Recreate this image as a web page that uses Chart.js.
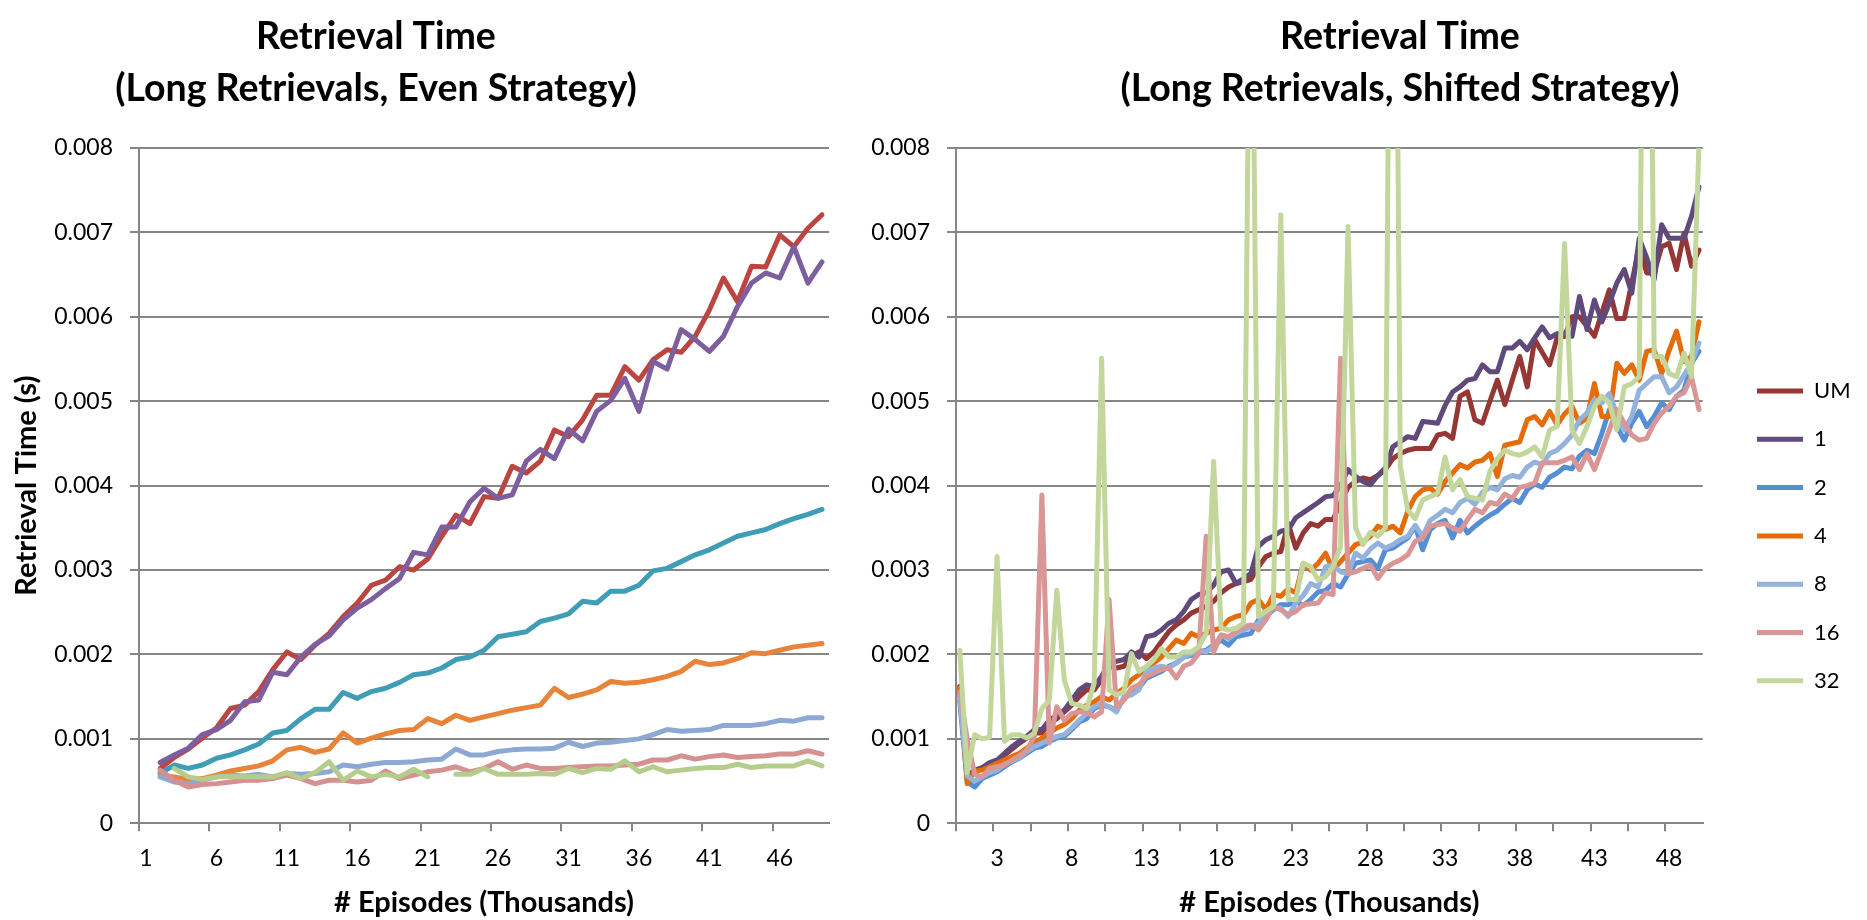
<!DOCTYPE html>
<html>
<head>
<meta charset="utf-8">
<title>Retrieval Time</title>
<script src="https://cdn.jsdelivr.net/npm/chart.js@4.4.1/dist/chart.umd.min.js"></script>
<style>
    html, body { margin: 0; padding: 0; background: #ffffff; overflow: hidden; }
    body { width: 1867px; height: 920px; position: relative; }
    #graficoPar { position: absolute; left: -83px; top: 0; }
    #graficoDesplazado { position: absolute; left: 857px; top: 0; }
</style>
</head>
<body>
<canvas id="graficoPar" width="918" height="920"></canvas>
<canvas id="graficoDesplazado" width="1086" height="920"></canvas>
<script>
// ---- datos: Even Strategy (episodios en miles) ----
const episodiosPar = [1, 2, 3, 4, 5, 6, 7, 8, 9, 10, 11, 12, 13, 14, 15, 16, 17, 18, 19, 20,
    21, 22, 23, 24, 25, 26, 27, 28, 29, 30, 31, 32, 33, 34, 35, 36, 37, 38, 39, 40,
    41, 42, 43, 44, 45, 46, 47, 48, 49];

const umPar = [null, 0.00065, 0.00078, 0.00088, 0.00101, 0.00113, 0.00136, 0.00140, 0.00156, 0.00182,
    0.00203, 0.00194, 0.00211, 0.00225, 0.00245, 0.00261, 0.00282, 0.00288, 0.00304, 0.00300,
    0.00313, 0.00340, 0.00365, 0.00355, 0.00387, 0.00385, 0.00423, 0.00415, 0.00429, 0.00466,
    0.00458, 0.00478, 0.00507, 0.00507, 0.00541, 0.00525, 0.00549, 0.00561, 0.00558, 0.00577,
    0.00608, 0.00646, 0.00618, 0.00660, 0.00659, 0.00697, 0.00683, 0.00705, 0.00721];
const unoPar = [null, 0.00072, 0.00081, 0.00089, 0.00105, 0.00111, 0.00122, 0.00144, 0.00146, 0.00179,
    0.00176, 0.00197, 0.00212, 0.00222, 0.00241, 0.00255, 0.00265, 0.00278, 0.00290, 0.00321,
    0.00318, 0.00351, 0.00351, 0.00381, 0.00397, 0.00385, 0.00389, 0.00429, 0.00443, 0.00432,
    0.00467, 0.00453, 0.00488, 0.00501, 0.00527, 0.00488, 0.00547, 0.00538, 0.00585, 0.00573,
    0.00559, 0.00577, 0.00612, 0.00640, 0.00652, 0.00646, 0.00683, 0.00640, 0.00665];
const dosPar = [null, 0.00059, 0.00069, 0.00065, 0.00069, 0.00077, 0.00081, 0.00087, 0.00094, 0.00107,
    0.00110, 0.00124, 0.00135, 0.00135, 0.00155, 0.00148, 0.00156, 0.00160, 0.00167, 0.00176,
    0.00178, 0.00184, 0.00194, 0.00197, 0.00205, 0.00221, 0.00224, 0.00227, 0.00239, 0.00243,
    0.00248, 0.00263, 0.00261, 0.00275, 0.00275, 0.00282, 0.00299, 0.00302, 0.00310, 0.00318,
    0.00324, 0.00332, 0.00340, 0.00344, 0.00348, 0.00355, 0.00361, 0.00366, 0.00372];
const cuatroPar = [null, 0.00057, 0.00055, 0.00052, 0.00053, 0.00057, 0.00062, 0.00065, 0.00068, 0.00074,
    0.00087, 0.00090, 0.00084, 0.00088, 0.00107, 0.00095, 0.00101, 0.00106, 0.00110, 0.00111,
    0.00124, 0.00118, 0.00128, 0.00122, 0.00126, 0.00130, 0.00134, 0.00137, 0.00140, 0.00160,
    0.00149, 0.00153, 0.00158, 0.00168, 0.00166, 0.00167, 0.00170, 0.00174, 0.00180, 0.00192,
    0.00188, 0.00190, 0.00195, 0.00202, 0.00201, 0.00205, 0.00209, 0.00211, 0.00213];
const ochoPar = [null, 0.00055, 0.00049, 0.00047, 0.00051, 0.00055, 0.00057, 0.00056, 0.00058, 0.00055,
    0.00059, 0.00058, 0.00059, 0.00061, 0.00069, 0.00067, 0.00070, 0.00072, 0.00072, 0.00073,
    0.00075, 0.00076, 0.00088, 0.00081, 0.00081, 0.00085, 0.00087, 0.00088, 0.00088, 0.00089,
    0.00096, 0.00091, 0.00095, 0.00096, 0.00098, 0.00100, 0.00105, 0.00111, 0.00109, 0.00110,
    0.00111, 0.00116, 0.00116, 0.00116, 0.00118, 0.00122, 0.00121, 0.00125, 0.00125];
const dieciseisPar = [null, 0.00063, 0.00051, 0.00043, 0.00046, 0.00047, 0.00049, 0.00051, 0.00051, 0.00053,
    0.00057, 0.00053, 0.00047, 0.00051, 0.00051, 0.00049, 0.00051, 0.00062, 0.00053, 0.00057,
    0.00061, 0.00063, 0.00067, 0.00061, 0.00065, 0.00073, 0.00064, 0.00069, 0.00065, 0.00065,
    0.00066, 0.00067, 0.00068, 0.00068, 0.00069, 0.00070, 0.00075, 0.00075, 0.00080, 0.00076,
    0.00079, 0.00081, 0.00078, 0.00079, 0.00080, 0.00082, 0.00082, 0.00086, 0.00082];
const treintaydosPar = [null, null, 0.00065, 0.00055, 0.00052, 0.00055, 0.00055, 0.00055, 0.00055, 0.00055,
    0.00060, 0.00053, 0.00060, 0.00073, 0.00051, 0.00062, 0.00055, 0.00058, 0.00055, 0.00064,
    0.00055, null, 0.00058, 0.00058, 0.00065, 0.00058, 0.00058, 0.00058, 0.00059, 0.00058,
    0.00065, 0.00060, 0.00065, 0.00064, 0.00074, 0.00061, 0.00067, 0.00061, 0.00063, 0.00065,
    0.00066, 0.00066, 0.00070, 0.00066, 0.00068, 0.00068, 0.00068, 0.00074, 0.00068];

// ---- datos: Shifted Strategy (cada 500 episodios) ----
const episodiosDesplazado = [0.5, 1, 1.5, 2, 2.5, 3, 3.5, 4, 4.5, 5, 5.5, 6, 6.5, 7, 7.5, 8, 8.5, 9, 9.5, 10,
    10.5, 11, 11.5, 12, 12.5, 13, 13.5, 14, 14.5, 15, 15.5, 16, 16.5, 17, 17.5, 18, 18.5, 19, 19.5, 20,
    20.5, 21, 21.5, 22, 22.5, 23, 23.5, 24, 24.5, 25, 25.5, 26, 26.5, 27, 27.5, 28, 28.5, 29, 29.5, 30,
    30.5, 31, 31.5, 32, 32.5, 33, 33.5, 34, 34.5, 35, 35.5, 36, 36.5, 37, 37.5, 38, 38.5, 39, 39.5, 40,
    40.5, 41, 41.5, 42, 42.5, 43, 43.5, 44, 44.5, 45, 45.5, 46, 46.5, 47, 47.5, 48, 48.5, 49, 49.5, 50];

const umDesplazado = [0.00162, 0.00058, 0.00062, 0.00065, 0.00069, 0.00072, 0.00081, 0.00088, 0.00095, 0.00101,
    0.00107, 0.00107, 0.00118, 0.00124, 0.00132, 0.00140, 0.00150, 0.00158, 0.00158, 0.00170,
    0.00186, 0.00184, 0.00186, 0.00197, 0.00203, 0.00195, 0.00203, 0.00215, 0.00227, 0.00235,
    0.00241, 0.00249, 0.00253, 0.00257, 0.00263, 0.00273, 0.00280, 0.00284, 0.00286, 0.00289,
    0.00304, 0.00316, 0.00320, 0.00322, 0.00355, 0.00326, 0.00344, 0.00355, 0.00352, 0.00360,
    0.00360, 0.00380, 0.00398, 0.00405, 0.00409, 0.00407, 0.00412, 0.00419, 0.00432, 0.00438,
    0.00442, 0.00444, 0.00444, 0.00444, 0.00460, 0.00462, 0.00456, 0.00506, 0.00511, 0.00478,
    0.00474, 0.00500, 0.00525, 0.00496, 0.00525, 0.00553, 0.00517, 0.00573, 0.00558, 0.00543,
    0.00575, 0.00577, 0.00600, 0.00600, 0.00589, 0.00577, 0.00605, 0.00632, 0.00598, 0.00598,
    0.00640, 0.00683, 0.00652, 0.00652, 0.00683, 0.00687, 0.00656, 0.00699, 0.00660, 0.00679];
const unoDesplazado = [0.00155, 0.00055, 0.00063, 0.00066, 0.00072, 0.00075, 0.00083, 0.00091, 0.00097, 0.00103,
    0.00111, 0.00111, 0.00122, 0.00128, 0.00134, 0.00146, 0.00158, 0.00164, 0.00162, 0.00174,
    0.00190, 0.00192, 0.00194, 0.00203, 0.00197, 0.00221, 0.00223, 0.00229, 0.00237, 0.00241,
    0.00251, 0.00265, 0.00271, 0.00273, 0.00282, 0.00298, 0.00300, 0.00284, 0.00290, 0.00296,
    0.00328, 0.00336, 0.00340, 0.00346, 0.00348, 0.00362, 0.00368, 0.00374, 0.00380, 0.00387,
    0.00388, 0.00400, 0.00419, 0.00411, 0.00405, 0.00401, 0.00412, 0.00421, 0.00446, 0.00452,
    0.00458, 0.00456, 0.00476, 0.00475, 0.00474, 0.00495, 0.00511, 0.00517, 0.00525, 0.00527,
    0.00543, 0.00535, 0.00535, 0.00563, 0.00563, 0.00571, 0.00561, 0.00575, 0.00588, 0.00575,
    0.00580, 0.00581, 0.00577, 0.00624, 0.00585, 0.00620, 0.00594, 0.00616, 0.00640, 0.00656,
    0.00628, 0.00693, 0.00670, 0.00644, 0.00709, 0.00693, 0.00693, 0.00693, 0.00719, 0.00754];
const dosDesplazado = [0.00145, 0.00049, 0.00043, 0.00053, 0.00057, 0.00061, 0.00067, 0.00073, 0.00077, 0.00083,
    0.00089, 0.00091, 0.00097, 0.00101, 0.00103, 0.00111, 0.00120, 0.00124, 0.00136, 0.00140,
    0.00138, 0.00134, 0.00148, 0.00154, 0.00160, 0.00172, 0.00176, 0.00180, 0.00186, 0.00190,
    0.00197, 0.00199, 0.00203, 0.00205, 0.00211, 0.00217, 0.00211, 0.00221, 0.00223, 0.00225,
    0.00241, 0.00245, 0.00253, 0.00259, 0.00259, 0.00263, 0.00258, 0.00265, 0.00274, 0.00276,
    0.00284, 0.00280, 0.00295, 0.00308, 0.00310, 0.00312, 0.00302, 0.00324, 0.00326, 0.00332,
    0.00338, 0.00352, 0.00324, 0.00348, 0.00355, 0.00359, 0.00338, 0.00359, 0.00344, 0.00352,
    0.00359, 0.00365, 0.00370, 0.00378, 0.00385, 0.00380, 0.00395, 0.00402, 0.00398, 0.00410,
    0.00415, 0.00422, 0.00420, 0.00435, 0.00442, 0.00438, 0.00462, 0.00490, 0.00470, 0.00454,
    0.00474, 0.00488, 0.00470, 0.00482, 0.00498, 0.00490, 0.00506, 0.00513, 0.00545, 0.00559];
const cuatroDesplazado = [0.00160, 0.00047, 0.00062, 0.00063, 0.00067, 0.00071, 0.00075, 0.00079, 0.00083, 0.00089,
    0.00095, 0.00101, 0.00107, 0.00113, 0.00117, 0.00124, 0.00134, 0.00140, 0.00144, 0.00150,
    0.00146, 0.00154, 0.00160, 0.00170, 0.00176, 0.00184, 0.00190, 0.00197, 0.00207, 0.00217,
    0.00213, 0.00225, 0.00221, 0.00225, 0.00229, 0.00231, 0.00241, 0.00245, 0.00247, 0.00261,
    0.00265, 0.00253, 0.00271, 0.00269, 0.00278, 0.00273, 0.00308, 0.00300, 0.00308, 0.00320,
    0.00300, 0.00310, 0.00320, 0.00330, 0.00333, 0.00340, 0.00352, 0.00348, 0.00352, 0.00344,
    0.00370, 0.00387, 0.00395, 0.00397, 0.00390, 0.00405, 0.00415, 0.00425, 0.00421, 0.00428,
    0.00430, 0.00438, 0.00411, 0.00448, 0.00450, 0.00452, 0.00478, 0.00482, 0.00472, 0.00488,
    0.00472, 0.00485, 0.00494, 0.00474, 0.00480, 0.00521, 0.00482, 0.00482, 0.00545, 0.00533,
    0.00543, 0.00525, 0.00559, 0.00561, 0.00533, 0.00560, 0.00583, 0.00547, 0.00553, 0.00594];
const ochoDesplazado = [0.00150, 0.00056, 0.00050, 0.00055, 0.00060, 0.00063, 0.00070, 0.00074, 0.00078, 0.00085,
    0.00091, 0.00095, 0.00099, 0.00103, 0.00105, 0.00113, 0.00122, 0.00130, 0.00138, 0.00142,
    0.00138, 0.00132, 0.00150, 0.00152, 0.00158, 0.00180, 0.00184, 0.00186, 0.00184, 0.00190,
    0.00197, 0.00201, 0.00205, 0.00203, 0.00209, 0.00223, 0.00219, 0.00225, 0.00229, 0.00233,
    0.00237, 0.00251, 0.00255, 0.00255, 0.00245, 0.00261, 0.00270, 0.00284, 0.00280, 0.00304,
    0.00306, 0.00298, 0.00296, 0.00320, 0.00314, 0.00325, 0.00332, 0.00326, 0.00330, 0.00336,
    0.00340, 0.00353, 0.00340, 0.00359, 0.00365, 0.00372, 0.00368, 0.00380, 0.00385, 0.00378,
    0.00392, 0.00398, 0.00395, 0.00408, 0.00412, 0.00410, 0.00422, 0.00428, 0.00425, 0.00438,
    0.00442, 0.00450, 0.00460, 0.00478, 0.00486, 0.00502, 0.00498, 0.00509, 0.00485, 0.00466,
    0.00482, 0.00513, 0.00521, 0.00529, 0.00529, 0.00510, 0.00517, 0.00531, 0.00545, 0.00569];
const dieciseisDesplazado = [0.00155, 0.00100, 0.00058, 0.00055, 0.00065, 0.00067, 0.00069, 0.00075, 0.00080, 0.00087,
    0.00103, 0.00389, 0.00095, 0.00138, 0.00122, 0.00130, 0.00132, 0.00132, 0.00126, 0.00132,
    0.00265, 0.00138, 0.00146, 0.00160, 0.00164, 0.00174, 0.00178, 0.00182, 0.00184, 0.00172,
    0.00186, 0.00190, 0.00201, 0.00340, 0.00203, 0.00223, 0.00221, 0.00227, 0.00233, 0.00235,
    0.00229, 0.00241, 0.00257, 0.00253, 0.00247, 0.00251, 0.00259, 0.00260, 0.00261, 0.00273,
    0.00271, 0.00551, 0.00296, 0.00298, 0.00302, 0.00306, 0.00290, 0.00302, 0.00308, 0.00312,
    0.00318, 0.00334, 0.00338, 0.00352, 0.00354, 0.00355, 0.00350, 0.00346, 0.00360, 0.00372,
    0.00368, 0.00380, 0.00378, 0.00390, 0.00385, 0.00398, 0.00400, 0.00403, 0.00427, 0.00427,
    0.00427, 0.00430, 0.00434, 0.00419, 0.00438, 0.00419, 0.00442, 0.00466, 0.00490, 0.00474,
    0.00460, 0.00454, 0.00456, 0.00474, 0.00486, 0.00494, 0.00506, 0.00510, 0.00529, 0.00490];
const treintaydosDesplazado = [0.00205, 0.00060, 0.00105, 0.00100, 0.00102, 0.00316, 0.00097, 0.00105, 0.00105, 0.00101,
    0.00107, 0.00136, 0.00146, 0.00276, 0.00170, 0.00142, 0.00140, 0.00136, 0.00166, 0.00551,
    0.00158, 0.00152, 0.00156, 0.00201, 0.00180, 0.00186, 0.00194, 0.00207, 0.00197, 0.00197,
    0.00203, 0.00203, 0.00209, 0.00225, 0.00429, 0.00231, 0.00229, 0.00231, 0.00237, 0.01200,
    0.00245, 0.00251, 0.00257, 0.00721, 0.00265, 0.00265, 0.00308, 0.00304, 0.00288, 0.00292,
    0.00304, 0.00328, 0.00707, 0.00350, 0.00330, 0.00345, 0.00340, 0.00350, 0.01600, 0.00423,
    0.00371, 0.00361, 0.00383, 0.00387, 0.00391, 0.00434, 0.00395, 0.00407, 0.00387, 0.00385,
    0.00383, 0.00417, 0.00432, 0.00442, 0.00438, 0.00436, 0.00440, 0.00446, 0.00434, 0.00466,
    0.00470, 0.00687, 0.00466, 0.00450, 0.00470, 0.00494, 0.00506, 0.00498, 0.00466, 0.00517,
    0.00521, 0.00529, 0.01600, 0.00553, 0.00553, 0.00533, 0.00529, 0.00557, 0.00529, 0.00805];

const nombresSeries = ['UM', '1', '2', '4', '8', '16', '32'];
const coloresPar = ['#BB4541', '#7D5F9F', '#3F9DB5', '#E8833A', '#8DA8D3', '#D69090', '#B5CD8B'];
const coloresDesplazado = ['#953735', '#604A7B', '#558ED5', '#E46C0A', '#93B3DD', '#D99694', '#C3D69B'];

const gris = '#868686';

Chart.defaults.font.family = 'Lato';
Chart.defaults.color = '#000000';

function CrearSeries(valores, colores) {
    // la ultima serie se dibuja encima, como en Excel
    return valores.map((datos, i) => ({
        label: nombresSeries[i],
        data: datos,
        borderColor: colores[i],
        backgroundColor: colores[i],
        borderWidth: 5,
        borderCapStyle: 'round',
        borderJoinStyle: 'round',
        pointRadius: 0,
        pointHoverRadius: 0,
        tension: 0,
        spanGaps: false,
        order: valores.length - i
    }));
}

function EjeY(ancho, conTitulo) {
    return {
        min: 0,
        max: 0.008,
        afterFit: function (eje) { eje.width = ancho; },
        ticks: {
            stepSize: 0.001,
            padding: 17,
            font: { size: 23 },
            callback: function (valor) { return valor === 0 ? '0' : valor.toFixed(3); }
        },
        grid: { color: gris, lineWidth: 2, tickLength: 9 },
        border: { color: gris, width: 2 },
        title: {
            display: conTitulo,
            text: 'Retrieval Time (s)',
            font: { size: 29, weight: 'bold' },
            padding: { top: 92.6, bottom: 0 }
        }
    };
}

function EjeX(mostrarEtiqueta) {
    return {
        type: 'category',
        offset: true,
        afterFit: function (eje) { eje.height = 96.7; },
        ticks: {
            autoSkip: false,
            maxRotation: 0,
            minRotation: 0,
            padding: 13,
            font: { size: 23 },
            callback: function (valor, indice) {
                return mostrarEtiqueta(indice) ? this.getLabelForValue(valor) : '';
            }
        },
        grid: {
            offset: true,
            drawOnChartArea: false,
            tickLength: 8,
            lineWidth: 2,
            color: function (c) { return c.index % 5 === 0 ? gris : 'rgba(0,0,0,0)'; }
        },
        border: { color: gris, width: 2 },
        title: {
            display: true,
            text: '# Episodes (Thousands)',
            font: { size: 29, weight: 'bold' },
            padding: { top: 0, bottom: 0 }
        }
    };
}

function Relleno(peso, ancho) {
    // eje vacio solo para reservar espacio a la derecha
    return {
        type: 'linear',
        position: 'right',
        weight: peso,
        grid: { display: false },
        border: { display: false },
        ticks: { display: false },
        afterFit: function (eje) { eje.width = ancho; }
    };
}

function Titulo(segundaLinea) {
    return {
        display: true,
        text: ['Retrieval Time', segundaLinea],
        font: { size: 37.5, weight: 'bold', lineHeight: '52px' },
        padding: { top: 11, bottom: 33 },
        color: '#000000'
    };
}

const ctxPar = document.getElementById('graficoPar');
const graficoPar = new Chart(ctxPar, {
    type: 'line',
    data: {
        labels: episodiosPar,
        datasets: CrearSeries([umPar, unoPar, dosPar, cuatroPar, ochoPar, dieciseisPar, treintaydosPar], coloresPar)
    },
    options: {
        responsive: false,
        animation: false,
        events: [],
        layout: { padding: 0 },
        scales: {
            x: EjeX(function (i) { return i % 5 === 0; }),
            y: EjeY(222, true)
        },
        plugins: {
            title: Titulo('(Long Retrievals, Even Strategy)'),
            legend: { display: false },
            tooltip: { enabled: false }
        }
    }
});

const ctxDesplazado = document.getElementById('graficoDesplazado');
const graficoDesplazado = new Chart(ctxDesplazado, {
    type: 'line',
    data: {
        labels: episodiosDesplazado,
        datasets: CrearSeries([umDesplazado, unoDesplazado, dosDesplazado, cuatroDesplazado, ochoDesplazado, dieciseisDesplazado, treintaydosDesplazado], coloresDesplazado)
    },
    options: {
        responsive: false,
        animation: false,
        events: [],
        layout: { padding: 0 },
        scales: {
            x: EjeX(function (i) { return i % 10 === 5; }),
            y: EjeY(99, false),
            hueco: Relleno(500, 28),
            margen: Relleno(2000, 90.3)
        },
        plugins: {
            title: Titulo('(Long Retrievals, Shifted Strategy)'),
            tooltip: { enabled: false },
            legend: {
                position: 'right',
                align: 'start',
                fullSize: false,
                reverse: true,
                maxWidth: 122,
                title: {
                    display: true,
                    text: '',
                    font: { size: 10, lineHeight: '10px' },
                    padding: { top: 195.7, bottom: 0 }
                },
                labels: {
                    usePointStyle: true,
                    pointStyle: 'line',
                    pointStyleWidth: 46,
                    padding: 26.3,
                    color: '#000000',
                    font: { size: 22 }
                }
            }
        }
    }
});
</script>
</body>
</html>
